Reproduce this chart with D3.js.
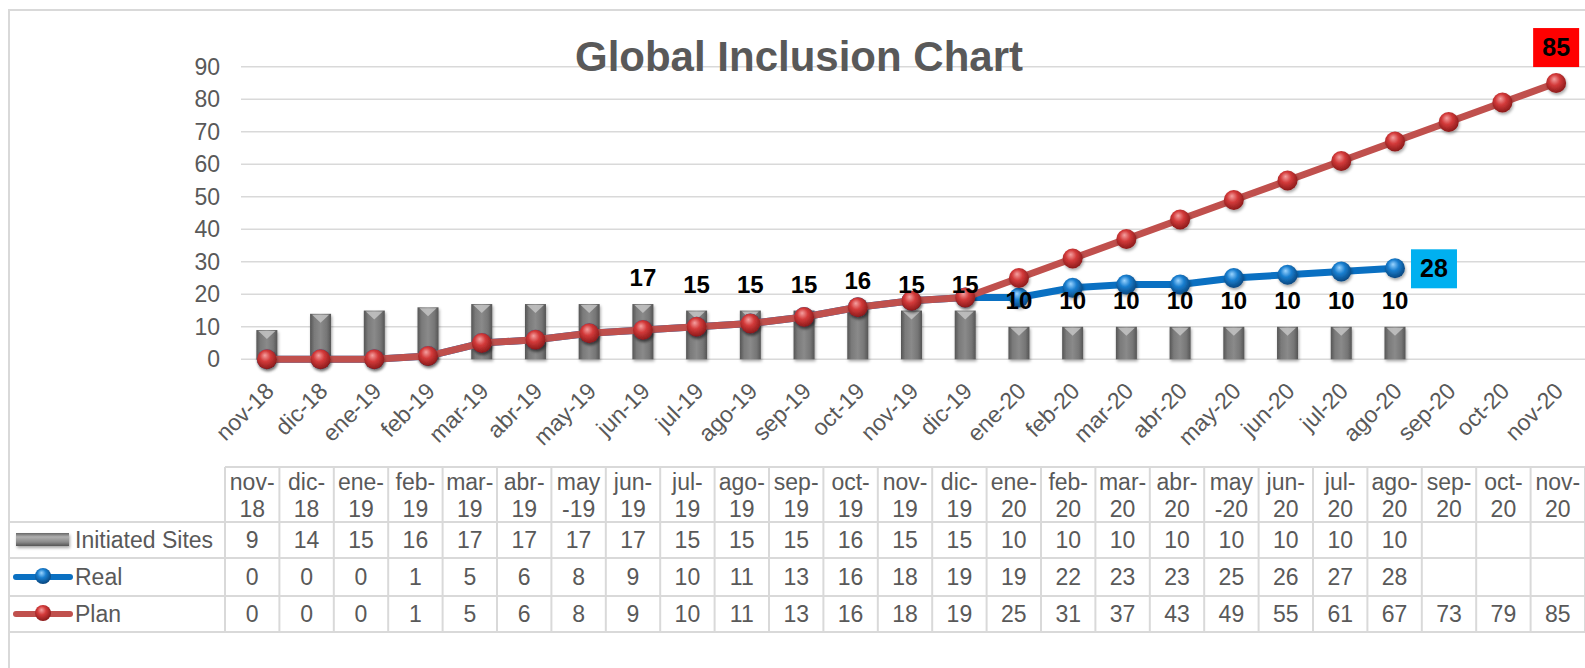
<!DOCTYPE html>
<html>
<head>
<meta charset="utf-8">
<script src="https://cdn.jsdelivr.net/npm/d3@7"></script>
<style>
  body { margin: 0; background: #fff; }
  svg { font-family: "Liberation Sans", Arial, sans-serif; }
</style>
</head>
<body>
<div id="chart"></div>
<script>
const MONTHS = ["nov-18","dic-18","ene-19","feb-19","mar-19","abr-19","may-19","jun-19","jul-19","ago-19","sep-19","oct-19","nov-19","dic-19","ene-20","feb-20","mar-20","abr-20","may-20","jun-20","jul-20","ago-20","sep-20","oct-20","nov-20"];
const SITES = [9,14,15,16,17,17,17,17,15,15,15,16,15,15,10,10,10,10,10,10,10,10];
const REAL = [0,0,0,1,5,6,8,9,10,11,13,16,18,19,19,22,23,23,25,26,27,28];
const PLAN = [0,0,0,1,5,6,8,9,10,11,13,16,18,19,25,31,37,43,49,55,61,67,73,79,85];
const Y_TICKS = [0,10,20,30,40,50,60,70,80,90];
const LABEL_FROM = 7; // site labels start at jun-19

var W = 1585, H = 668;
var textCol = "#595959", gridCol = "#d9d9d9";
var fs = 23;

var svg = d3.select("#chart").append("svg")
  .attr("width", W).attr("height", H);

var defs = svg.append("defs");

// bar gradient
var bg = defs.append("linearGradient").attr("id", "barGrad")
  .attr("x1", "0").attr("x2", "1").attr("y1", "0").attr("y2", "0");
bg.append("stop").attr("offset", "0").attr("stop-color", "#555");
bg.append("stop").attr("offset", "0.2").attr("stop-color", "#7a7a7a");
bg.append("stop").attr("offset", "0.5").attr("stop-color", "#8a8a8a");
bg.append("stop").attr("offset", "0.8").attr("stop-color", "#767676");
bg.append("stop").attr("offset", "1").attr("stop-color", "#555");

var lg = defs.append("linearGradient").attr("id", "legGrad")
  .attr("x1", "0").attr("x2", "0").attr("y1", "0").attr("y2", "1");
lg.append("stop").attr("offset", "0").attr("stop-color", "#666");
lg.append("stop").attr("offset", "0.3").attr("stop-color", "#b0b0b0");
lg.append("stop").attr("offset", "0.7").attr("stop-color", "#8a8a8a");
lg.append("stop").attr("offset", "1").attr("stop-color", "#555");

function sphere(id, light, mid, dark) {
  var g = defs.append("radialGradient").attr("id", id)
    .attr("cx", "0.45").attr("cy", "0.4").attr("r", "0.6")
    .attr("fx", "0.4").attr("fy", "0.3");
  g.append("stop").attr("offset", "0").attr("stop-color", light);
  g.append("stop").attr("offset", "0.45").attr("stop-color", mid);
  g.append("stop").attr("offset", "1").attr("stop-color", dark);
}
sphere("redBall", "#f4a0a0", "#d33a3a", "#8a1a1a");
sphere("blueBall", "#9ad4ff", "#1a7fd0", "#07467f");

var sh = defs.append("filter").attr("id", "shadow")
  .attr("x", "-50%").attr("y", "-50%").attr("width", "200%").attr("height", "200%");
sh.append("feDropShadow").attr("dx", 1).attr("dy", 2).attr("stdDeviation", 1.5)
  .attr("flood-color", "#000").attr("flood-opacity", 0.35);

// outer border
svg.append("rect").attr("x", 9).attr("y", 10).attr("width", W).attr("height", H)
  .attr("fill", "none").attr("stroke", gridCol).attr("stroke-width", 2);

// scales
var x = d3.scaleBand().domain(MONTHS).range([240, 1583]);
var cx = function(m) { return x(m) + x.bandwidth() / 2; };
var y = d3.scaleLinear().domain([0, 90]).range([359.3, 66.8]);

// gridlines
svg.append("g").selectAll("line").data(Y_TICKS).enter().append("line")
  .attr("x1", 241).attr("x2", W)
  .attr("y1", d => y(d)).attr("y2", d => y(d))
  .attr("stroke", gridCol).attr("stroke-width", 1.5);

// y axis labels
var yAxis = svg.append("g").attr("transform", "translate(228,0)")
  .call(d3.axisLeft(y).tickValues(Y_TICKS).tickSize(0).tickPadding(8));
yAxis.select(".domain").remove();
yAxis.selectAll("text").attr("font-size", fs).attr("fill", textCol)
  .attr("font-family", "Liberation Sans, Arial, sans-serif");

// title
svg.append("text").attr("x", 799).attr("y", 71).attr("text-anchor", "middle")
  .attr("font-size", 42).attr("font-weight", "bold").attr("fill", textCol)
  .text("Global Inclusion Chart");

// x axis labels
var xAxis = svg.append("g").attr("transform", "translate(0,370)")
  .call(d3.axisBottom(x).tickSize(0).tickPadding(0));
xAxis.select(".domain").remove();
xAxis.selectAll("text")
  .attr("font-size", fs).attr("fill", textCol)
  .attr("font-family", "Liberation Sans, Arial, sans-serif")
  .attr("text-anchor", "end")
  .attr("dy", "0.7em")
  .attr("transform", "translate(-3,11) rotate(-45)");

var bw = 21;
var sitesData = SITES.map((v, i) => ({ m: MONTHS[i], v: v, i: i }));

// bars
var bars = svg.append("g").selectAll("g").data(sitesData).enter().append("g")
  .attr("filter", "url(#shadow)");
bars.append("rect")
  .attr("x", d => cx(d.m) - bw / 2).attr("width", bw)
  .attr("y", d => y(d.v)).attr("height", d => y(0) - y(d.v))
  .attr("fill", "url(#barGrad)");
bars.append("path")
  .attr("d", d => {
    var l = cx(d.m) - bw / 2 + 2, r = cx(d.m) + bw / 2 - 2, t = y(d.v) + 1;
    return "M" + l + "," + t + "L" + r + "," + t + "L" + cx(d.m) + "," + (t + 8) + "Z";
  })
  .attr("fill", "#c8c8c8").attr("opacity", 0.8);

// lines
var line = d3.line().x(d => cx(d.m)).y(d => y(d.v));
var realData = REAL.map((v, i) => ({ m: MONTHS[i], v: v }));
var planData = PLAN.map((v, i) => ({ m: MONTHS[i], v: v }));

svg.append("path").datum(realData).attr("d", line)
  .attr("fill", "none").attr("stroke", "#0a70c2").attr("stroke-width", 7)
  .attr("stroke-linejoin", "round");
svg.append("g").selectAll("circle").data(realData).enter().append("circle")
  .attr("cx", d => cx(d.m)).attr("cy", d => y(d.v)).attr("r", 10)
  .attr("fill", "url(#blueBall)").attr("filter", "url(#shadow)");

svg.append("path").datum(planData).attr("d", line)
  .attr("fill", "none").attr("stroke", "#c0504d").attr("stroke-width", 7)
  .attr("stroke-linejoin", "round");
svg.append("g").selectAll("circle").data(planData).enter().append("circle")
  .attr("cx", d => cx(d.m)).attr("cy", d => y(d.v)).attr("r", 10)
  .attr("fill", "url(#redBall)").attr("filter", "url(#shadow)");

// site labels
svg.append("g").selectAll("text").data(sitesData.filter(d => d.i >= LABEL_FROM)).enter()
  .append("text")
  .attr("x", d => cx(d.m)).attr("y", d => y(d.v) - 18)
  .attr("text-anchor", "middle").attr("font-size", 24).attr("font-weight", "bold")
  .attr("fill", "#000").text(d => d.v);

// last real label
var lr = realData[realData.length - 1];
var lrg = svg.append("g").attr("transform", "translate(" + (cx(lr.m) + 16) + "," + (y(lr.v) - 19) + ")");
lrg.append("rect").attr("width", 46).attr("height", 39).attr("fill", "#00b0f0");
lrg.append("text").attr("x", 23).attr("y", 28).attr("text-anchor", "middle")
  .attr("font-size", 25).attr("font-weight", "bold").text(lr.v);

// last plan label
var lp = planData[planData.length - 1];
var lpg = svg.append("g").attr("transform", "translate(" + (cx(lp.m) - 23) + "," + (y(lp.v) - 55) + ")");
lpg.append("rect").attr("width", 46).attr("height", 39).attr("fill", "#ff0000");
lpg.append("text").attr("x", 23).attr("y", 28).attr("text-anchor", "middle")
  .attr("font-size", 25).attr("font-weight", "bold").text(lp.v);

// data table
var tx = d3.scaleBand().domain(MONTHS).range([225, 225 + 54.4 * MONTHS.length]);
var rows = [467, 522, 558, 596, 632];
var tbl = svg.append("g");

// horizontal lines
tbl.append("line").attr("x1", 225).attr("x2", W).attr("y1", rows[0]).attr("y2", rows[0]);
rows.slice(1).forEach(r => {
  tbl.append("line").attr("x1", 9).attr("x2", W).attr("y1", r).attr("y2", r);
});
// vertical lines
MONTHS.concat([null]).forEach((m, i) => {
  var xx = 225 + 54.4 * i;
  tbl.append("line").attr("x1", xx).attr("x2", xx).attr("y1", rows[0]).attr("y2", rows[4]);
});
tbl.selectAll("line").attr("stroke", gridCol).attr("stroke-width", 2);

// header
function headLines(m) {
  var p = m.split("-");
  return p[0] === "may" ? ["may", "-" + p[1]] : [p[0] + "-", p[1]];
}
var head = tbl.append("g").selectAll("text").data(MONTHS).enter().append("text")
  .attr("text-anchor", "middle").attr("font-size", fs).attr("fill", textCol);
head.append("tspan").attr("x", d => tx(d) + 27.2).attr("y", 490).text(d => headLines(d)[0]);
head.append("tspan").attr("x", d => tx(d) + 27.2).attr("y", 517).text(d => headLines(d)[1]);

var series = [SITES, REAL, PLAN];
var baselines = [548, 585, 622];
series.forEach((s, k) => {
  tbl.append("g").selectAll("text").data(s).enter().append("text")
    .attr("x", (d, i) => tx(MONTHS[i]) + 27.2).attr("y", baselines[k])
    .attr("text-anchor", "middle").attr("font-size", fs).attr("fill", textCol)
    .text(d => d);
});

// legend cells
var names = ["Initiated Sites", "Real", "Plan"];
names.forEach((n, k) => {
  tbl.append("text").attr("x", 75).attr("y", baselines[k])
    .attr("font-size", fs).attr("fill", textCol).text(n);
});
tbl.append("rect").attr("x", 16).attr("y", 533).attr("width", 53).attr("height", 13)
  .attr("fill", "url(#legGrad)").attr("filter", "url(#shadow)");
[["#0a70c2", "url(#blueBall)", 577], ["#c0504d", "url(#redBall)", 614]].forEach(c => {
  tbl.append("line").attr("x1", 16).attr("x2", 70).attr("y1", c[2]).attr("y2", c[2])
    .attr("stroke", c[0]).attr("stroke-width", 6).attr("stroke-linecap", "round");
  tbl.append("circle").attr("cx", 43).attr("cy", c[2] - 1).attr("r", 8)
    .attr("fill", c[1]);
});
</script>
</body>
</html>
